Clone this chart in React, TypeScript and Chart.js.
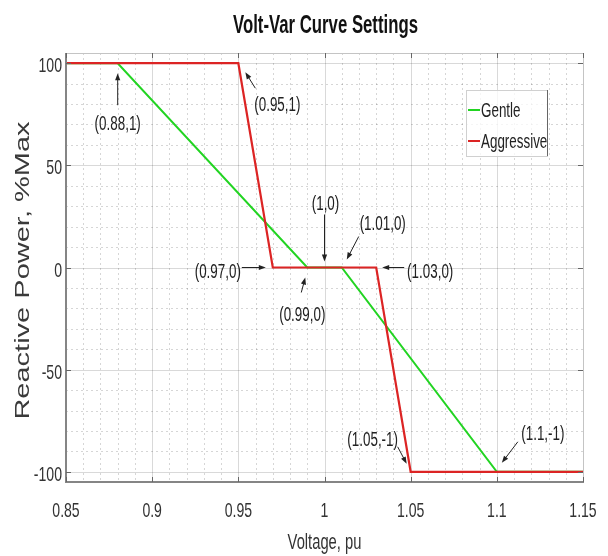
import React, { useEffect, useRef } from "react";
import { Chart, registerables } from "chart.js";

Chart.register(...registerables);

// ---- data ----
const seriesNames = ["Gentle", "Aggressive"];
const gentleVoltage = [0.85, 0.88, 0.99, 1.01, 1.1, 1.15];
const gentleQ = [100, 100, 0, 0, -100, -100];
const aggressiveVoltage = [0.85, 0.95, 0.97, 1.03, 1.05, 1.15];
const aggressiveQ = [100, 100, 0, 0, -100, -100];
const xTicks = [0.85, 0.9, 0.95, 1, 1.05, 1.1, 1.15];
const xTickLabels = ["0.85", "0.9", "0.95", "1", "1.05", "1.1", "1.15"];
const yTicks = [-100, -50, 0, 50, 100];
const yTickLabels = ["-100", "-50", "0", "50", "100"];
const chartTitle = "Volt-Var Curve Settings";
const xTitle = "Voltage, pu";
const yTitle = "Reactive Power, %Max";

// callouts: labelled data points, offsets (px) for arrow tip, arrow tail, text centre
const callouts = [
  { label: "(0.88,1)", x: 0.88, y: 100, tip: [0, 10], tail: [0, 42], text: [0, 61] },
  { label: "(0.95,1)", x: 0.95, y: 100, tip: [7, 9], tail: [17, 25], text: [39, 42] },
  { label: "(0.97,0)", x: 0.97, y: 0, tip: [-7, 0], tail: [-31, 0], text: [-55, 4] },
  { label: "(0.99,0)", x: 0.99, y: 0, tip: [-2, 10], tail: [-6, 25], text: [-5, 47] },
  { label: "(1,0)", x: 1.0, y: 0, tip: [0, -6], tail: [0, -53], text: [1, -64] },
  { label: "(1.01,0)", x: 1.01, y: 0, tip: [5, -8], tail: [17, -31], text: [41, -44] },
  { label: "(1.03,0)", x: 1.03, y: 0, tip: [6, 0], tail: [28, 0], text: [54, 4] },
  { label: "(1.05,-1)", x: 1.05, y: -100, tip: [-4, -8], tail: [-13, -25], text: [-38, -32] },
  { label: "(1.1,-1)", x: 1.1, y: -100, tip: [5, -9], tail: [21, -30], text: [46, -38] },
];

const FONT = "'Liberation Sans', Arial, sans-serif";
const SX = 0.67;
const GREEN = "#22d422";
const RED = "#dc2424";

function drawText(
  ctx: CanvasRenderingContext2D,
  s: string,
  x: number,
  y: number,
  font: string,
  color: string,
  align: CanvasTextAlign
) {
  ctx.save();
  ctx.translate(x, y);
  ctx.scale(SX, 1);
  ctx.font = font;
  ctx.fillStyle = color;
  ctx.textAlign = align;
  ctx.textBaseline = "alphabetic";
  ctx.fillText(s, 0, 0);
  ctx.restore();
}

function arrow(ctx: CanvasRenderingContext2D, x0: number, y0: number, x1: number, y1: number) {
  const ang = Math.atan2(y1 - y0, x1 - x0);
  const L = 7;
  const W = 2.6;
  ctx.save();
  ctx.strokeStyle = "#222";
  ctx.fillStyle = "#222";
  ctx.lineWidth = 1;
  ctx.beginPath();
  ctx.moveTo(x0, y0);
  ctx.lineTo(x1 - Math.cos(ang) * (L - 1), y1 - Math.sin(ang) * (L - 1));
  ctx.stroke();
  ctx.beginPath();
  ctx.moveTo(x1, y1);
  ctx.lineTo(x1 - Math.cos(ang) * L - Math.sin(ang) * W, y1 - Math.sin(ang) * L + Math.cos(ang) * W);
  ctx.lineTo(x1 - Math.cos(ang) * L + Math.sin(ang) * W, y1 - Math.sin(ang) * L - Math.cos(ang) * W);
  ctx.closePath();
  ctx.fill();
  ctx.restore();
}

const gridPlugin = {
  id: "matlabGrid",
  beforeDatasetsDraw(chart: any) {
    const { ctx, chartArea: a, scales } = chart;
    const xs = scales.x;
    const ys = scales.y;
    ctx.save();
    // minor grid
    ctx.strokeStyle = "rgba(0,0,0,0.16)";
    ctx.lineWidth = 1;
    ctx.setLineDash([2, 3]);
    for (let i = 86; i < 115; i++) {
      if (i % 5 === 0) continue;
      const px = Math.round(xs.getPixelForValue(i / 100)) + 0.5;
      ctx.beginPath();
      ctx.moveTo(px, a.top);
      ctx.lineTo(px, a.bottom);
      ctx.stroke();
    }
    for (let v = -100; v <= 100; v += 10) {
      if (v % 50 === 0) continue;
      const py = Math.round(ys.getPixelForValue(v)) + 0.5;
      ctx.beginPath();
      ctx.moveTo(a.left, py);
      ctx.lineTo(a.right, py);
      ctx.stroke();
    }
    // major grid
    ctx.setLineDash([]);
    ctx.strokeStyle = "rgba(0,0,0,0.15)";
    xTicks.forEach((v) => {
      const px = Math.round(xs.getPixelForValue(v)) + 0.5;
      ctx.beginPath();
      ctx.moveTo(px, a.top);
      ctx.lineTo(px, a.bottom);
      ctx.stroke();
    });
    yTicks.forEach((v) => {
      const py = Math.round(ys.getPixelForValue(v)) + 0.5;
      ctx.beginPath();
      ctx.moveTo(a.left, py);
      ctx.lineTo(a.right, py);
      ctx.stroke();
    });
    ctx.restore();
  },
  afterDatasetsDraw(chart: any) {
    const { ctx, chartArea: a, scales } = chart;
    const xs = scales.x;
    const ys = scales.y;
    ctx.save();
    // box
    ctx.strokeStyle = "#c4c4c4";
    ctx.lineWidth = 1;
    ctx.beginPath();
    ctx.moveTo(a.left, a.top + 0.5);
    ctx.lineTo(a.right + 0.5, a.top + 0.5);
    ctx.lineTo(a.right + 0.5, a.bottom);
    ctx.stroke();
    ctx.strokeStyle = "#858585";
    ctx.lineWidth = 2;
    ctx.beginPath();
    ctx.moveTo(a.left, a.top);
    ctx.lineTo(a.left, a.bottom);
    ctx.lineTo(a.right + 1, a.bottom);
    ctx.stroke();
    // tick marks
    ctx.lineWidth = 1;
    ctx.strokeStyle = "#666";
    xTicks.forEach((v) => {
      const px = Math.round(xs.getPixelForValue(v)) + 0.5;
      ctx.beginPath();
      ctx.moveTo(px, a.bottom);
      ctx.lineTo(px, a.bottom - 5);
      ctx.moveTo(px, a.top);
      ctx.lineTo(px, a.top + 5);
      ctx.stroke();
    });
    yTicks.forEach((v) => {
      const py = Math.round(ys.getPixelForValue(v)) + 0.5;
      ctx.beginPath();
      ctx.moveTo(a.left, py);
      ctx.lineTo(a.left + 5, py);
      ctx.moveTo(a.right, py);
      ctx.lineTo(a.right - 5, py);
      ctx.stroke();
    });
    ctx.restore();

    // tick labels
    const tickFont = `21px ${FONT}`;
    xTicks.forEach((v, i) => {
      drawText(ctx, xTickLabels[i], xs.getPixelForValue(v), a.bottom + 35, tickFont, "#333", "center");
    });
    yTicks.forEach((v, i) => {
      drawText(ctx, yTickLabels[i], a.left - 4, ys.getPixelForValue(v) + 9, tickFont, "#333", "right");
    });

    // axis titles
    drawText(ctx, xTitle, (a.left + a.right) / 2, 549, `22px ${FONT}`, "#333", "center");
    ctx.save();
    ctx.translate(29, (a.top + a.bottom) / 2 + 3);
    ctx.rotate(-Math.PI / 2);
    ctx.scale(1, SX);
    ctx.font = `29px ${FONT}`;
    ctx.fillStyle = "#3a3a3a";
    ctx.textAlign = "center";
    ctx.textBaseline = "alphabetic";
    ctx.fillText(yTitle, 0, 0);
    ctx.restore();

    // chart title
    drawText(ctx, chartTitle, 325.5, 33, `bold 25px ${FONT}`, "#111", "center");

    // callouts
    const annFont = `20px ${FONT}`;
    callouts.forEach((c) => {
      const px = xs.getPixelForValue(c.x);
      const py = ys.getPixelForValue(c.y);
      arrow(ctx, px + c.tail[0], py + c.tail[1], px + c.tip[0], py + c.tip[1]);
      drawText(ctx, c.label, px + c.text[0], py + c.text[1] + 6, annFont, "#222", "center");
    });

    // legend
    const lx0 = a.right - 117;
    const lx1 = a.right - 36;
    const ly0 = a.top + 37;
    const ly1 = a.top + 103;
    ctx.save();
    ctx.fillStyle = "rgba(255,255,255,0.75)";
    ctx.fillRect(lx0, ly0, lx1 - lx0, ly1 - ly0);
    ctx.strokeStyle = "#d0d0d0";
    ctx.lineWidth = 1;
    ctx.strokeRect(lx0 + 0.5, ly0 + 0.5, lx1 - lx0, ly1 - ly0);
    ctx.strokeStyle = "#666";
    ctx.beginPath();
    ctx.moveTo(lx1 + 0.5, ly0);
    ctx.lineTo(lx1 + 0.5, ly1);
    ctx.stroke();
    const colors = chart.data.datasets.map((d: any) => d.borderColor);
    seriesNames.forEach((name, i) => {
      const cy = ly0 + 20 + i * 31;
      ctx.strokeStyle = colors[i];
      ctx.lineWidth = 2;
      ctx.beginPath();
      ctx.moveTo(lx0 + 2, cy);
      ctx.lineTo(lx0 + 14, cy);
      ctx.stroke();
      drawText(ctx, name, lx0 + 15, cy + 7, `20px ${FONT}`, "#222", "left");
    });
    ctx.restore();
  },
};

export default function App() {
  const ref = useRef<HTMLCanvasElement | null>(null);

  useEffect(() => {
    if (!ref.current) return;
    const chart = new Chart(ref.current, {
      type: "line",
      data: {
        datasets: [
          {
            label: seriesNames[0],
            data: gentleVoltage.map((v, i) => ({ x: v, y: gentleQ[i] })),
            borderColor: GREEN,
            borderWidth: 2,
            pointRadius: 0,
            fill: false,
            order: 1,
          },
          {
            label: seriesNames[1],
            data: aggressiveVoltage.map((v, i) => ({ x: v, y: aggressiveQ[i] })),
            borderColor: RED,
            borderWidth: 2.2,
            pointRadius: 0,
            fill: false,
            order: 0,
          },
        ],
      },
      options: {
        responsive: false,
        animation: false,
        devicePixelRatio: 1,
        events: [],
        layout: { padding: { left: 66, right: 25, top: 53, bottom: 74 } },
        plugins: {
          legend: { display: false },
          title: { display: false },
          tooltip: { enabled: false },
        },
        elements: { line: { tension: 0 } },
        scales: {
          x: {
            type: "linear",
            min: 0.85,
            max: 1.15,
            grid: { display: false, drawTicks: false, tickLength: 0 },
            ticks: { display: false },
            border: { display: false },
          },
          y: {
            type: "linear",
            min: -105,
            max: 105,
            grid: { display: false, drawTicks: false, tickLength: 0 },
            ticks: { display: false },
            border: { display: false },
          },
        },
      },
      plugins: [gridPlugin],
    });
    return () => chart.destroy();
  }, []);

  return (
    <div style={{ position: "fixed", left: 0, top: 0, width: 608, height: 556, background: "#fff" }}>
      <canvas ref={ref} width={608} height={556} style={{ display: "block" }} />
    </div>
  );
}
